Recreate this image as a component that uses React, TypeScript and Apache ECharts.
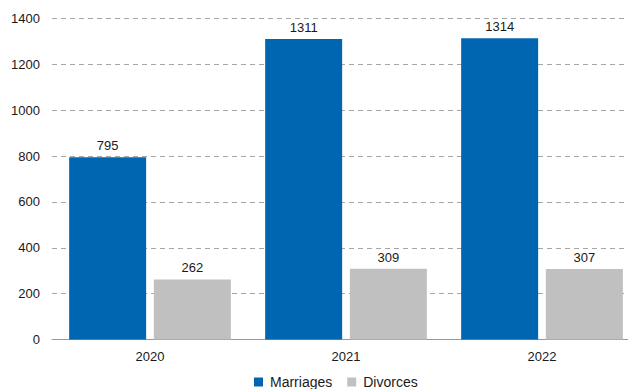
import React, { useEffect, useRef } from "react";
import * as echarts from "echarts";

const categories = ["2020", "2021", "2022"];
const marriages = [795, 1311, 1314];
const divorces = [262, 309, 307];
const seriesNames = ["Marriages", "Divorces"];

const FONT = 'Arial, "Liberation Sans", Helvetica, sans-serif';

export default function App() {
  const ref = useRef<HTMLDivElement>(null);
  useEffect(() => {
    if (!ref.current) return;
    const chart = echarts.init(ref.current, null, { renderer: "svg" });
    const label = {
      show: true,
      position: "top",
      distance: 5,
      color: "#1a1a1a",
      fontSize: 13,
      fontFamily: FONT,
      backgroundColor: "#ffffff",
      padding: [0, 2],
    };
    chart.setOption({
      animation: false,
      textStyle: { fontFamily: FONT },
      grid: { left: 52, top: 18.5, right: 0, bottom: 49.5, containLabel: false },
      legend: {
        data: seriesNames,
        top: 370,
        left: 249,
        itemWidth: 9,
        itemHeight: 9,
        itemGap: 15,
        icon: "rect",
        textStyle: { fontSize: 14, color: "#1a1a1a", fontFamily: FONT, padding: [0, 0, 0, 2] },
      },
      xAxis: {
        type: "category",
        data: categories,
        axisLine: { lineStyle: { color: "#999999", width: 1 } },
        axisTick: { show: false },
        axisLabel: { color: "#1a1a1a", fontSize: 13, margin: 10, fontFamily: FONT },
      },
      yAxis: {
        type: "value",
        min: 0,
        max: 1400,
        interval: 200,
        axisLine: { show: false },
        axisTick: { show: false },
        axisLabel: {
          color: "#1a1a1a",
          fontSize: 13,
          margin: 12,
          fontFamily: FONT,
          formatter: (v: number) => String(v),
        },
        splitLine: { lineStyle: { color: "#a6a6a6", type: [5, 4], width: 1 } },
      },
      series: [
        {
          name: seriesNames[0],
          type: "bar",
          data: marriages,
          barWidth: 77,
          barGap: "10%",
          itemStyle: { color: "#0066b1" },
          label,
        },
        {
          name: seriesNames[1],
          type: "bar",
          data: divorces,
          barWidth: 77,
          barGap: "10%",
          itemStyle: { color: "#c0c0c0" },
          label,
        },
      ],
    });
    return () => chart.dispose();
  }, []);
  return (
    <div
      ref={ref}
      style={{ position: "fixed", left: 0, top: 0, width: 640, height: 389, background: "#fff" }}
    />
  );
}
